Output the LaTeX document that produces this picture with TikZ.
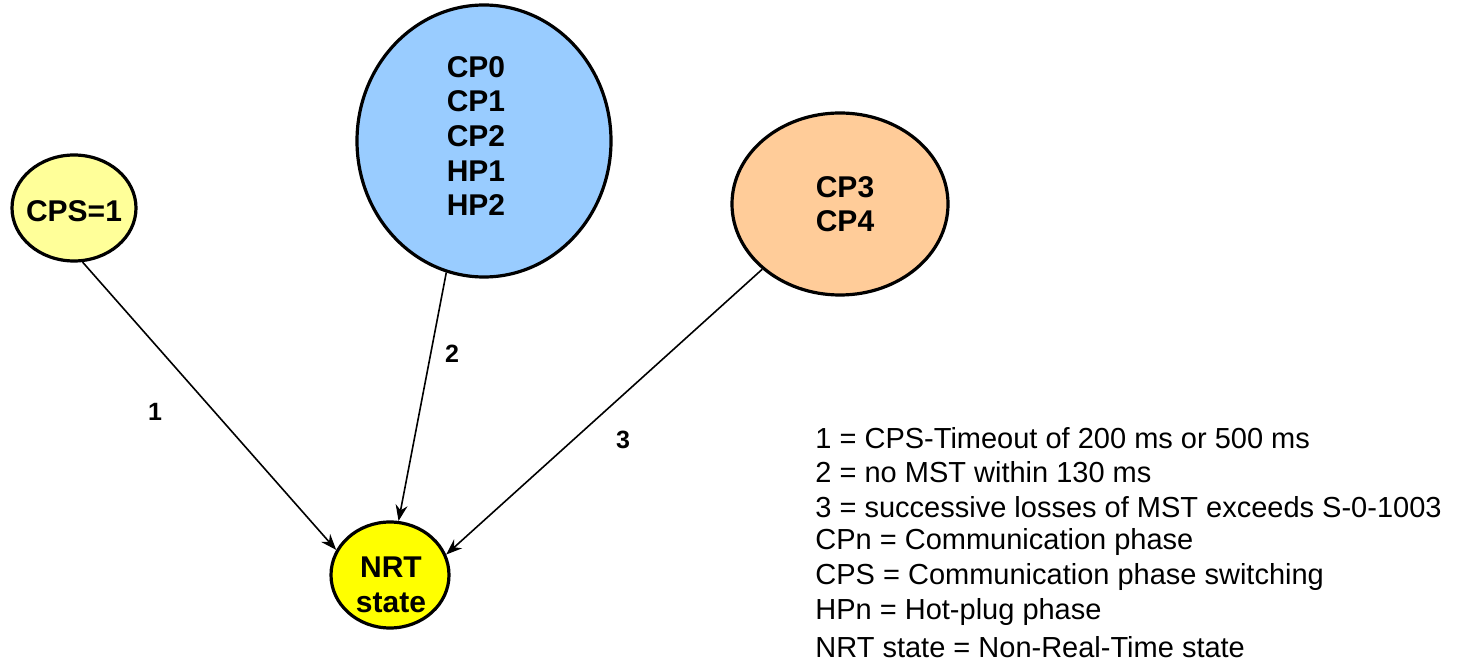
\documentclass[tikz,border=0pt]{standalone}
\usepackage{fontspec}
\setmainfont{Liberation Sans}
\usetikzlibrary{arrows.meta,shapes.geometric}
\definecolor{cpsfill}{HTML}{FFFF99}
\definecolor{bluefill}{HTML}{99CCFF}
\definecolor{orangefill}{HTML}{FFCC99}
\definecolor{nrtfill}{HTML}{FFFF00}
\tikzset{
  state/.style={ellipse, draw=black, line width=1.6pt, inner sep=0pt},
  statetext/.style={font=\fontsize{15}{17.3}\selectfont\bfseries, align=center, inner sep=0pt},
  edgelabel/.style={font=\fontsize{12.5}{14}\selectfont\bfseries, inner sep=0pt},
  legend/.style={font=\fontsize{14.5}{16}\selectfont, anchor=west, inner sep=0pt},
  conn/.style={line width=0.8pt, -{Stealth[length=8pt,width=6pt]}}
}
\begin{document}
\begin{tikzpicture}[x=0.5pt,y=-0.5pt]
\useasboundingbox (0,0) rectangle (1461,662);
\node[state, fill=cpsfill, minimum width=62pt, minimum height=53pt] (cps) at (74,208) {};
\node[statetext] (cpstext) at (74,211) {CPS=1};
\node[state, fill=bluefill, minimum width=127pt, minimum height=136pt] (cp) at (484,141) {};
\node[statetext] (cptext) at (476,136) {CP0\\CP1\\CP2\\HP1\\HP2};
\node[state, fill=orangefill, minimum width=108pt, minimum height=91pt] (cp34) at (840,204) {};
\node[statetext] (cp34text) at (845,204) {CP3\\CP4};
\node[state, fill=nrtfill, minimum width=59pt, minimum height=53pt] (nrt) at (390,575) {};
\node[statetext] (nrttext) at (391,585) {NRT\\state};
\draw[conn] (cps.-81) -- (nrt.155);
\draw[conn] (cp.-106) -- (nrt.81);
\draw[conn] (cp34.-140) -- (nrt.20);
\node[edgelabel] (l1) at (155,412) {1};
\node[edgelabel] (l2) at (452,354) {2};
\node[edgelabel] (l3) at (623,440) {3};
\node[legend] (g1) at (815,438) {1 = CPS-Timeout of 200 ms or 500 ms};
\node[legend] (g2) at (815,472) {2 = no MST within 130 ms};
\node[legend] (g3) at (815,507) {3 = successive losses of MST exceeds S-0-1003};
\node[legend] (g4) at (815,542) {CPn = Communication phase};
\node[legend] (g5) at (815,577) {CPS = Communication phase switching};
\node[legend] (g6) at (815,612) {HPn = Hot-plug phase};
\node[legend] (g7) at (815,647) {NRT state = Non-Real-Time state};
\end{tikzpicture}
\end{document}
